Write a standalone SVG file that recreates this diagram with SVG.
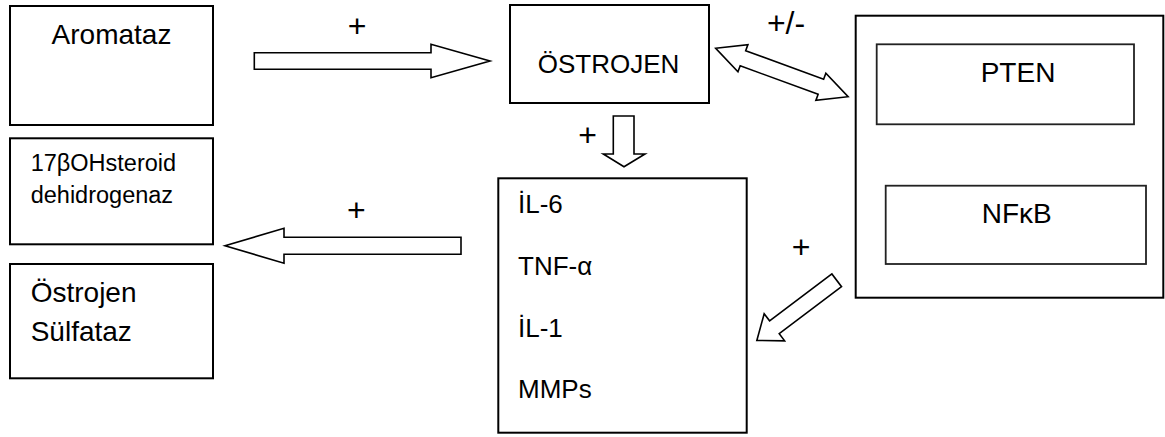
<svg xmlns="http://www.w3.org/2000/svg" width="1165" height="437" viewBox="0 0 1165 437">
<style>
.box{fill:#fff;stroke:#000;stroke-width:2}
.inner{fill:#fff;stroke:#222;stroke-width:1.8}
.arr{fill:#fff;stroke:#000;stroke-width:1.6;stroke-linejoin:miter}
text{font-family:"Liberation Sans",Arial,sans-serif;fill:#000}
.t28{font-size:28px}
.t26{font-size:26px}
.t23{font-size:23.5px}
.plus{font-size:32px;text-anchor:middle}
</style>
<rect width="1165" height="437" fill="#fff"/>
<g id="aromataz"><rect class="box" x="10" y="6" width="203" height="119"/><text class="t28" x="111.5" y="43.5" text-anchor="middle">Aromataz</text></g>
<g id="hsd17"><rect class="box" x="10" y="138.3" width="203" height="106"/><text class="t23" x="30.7" y="170.7">17βOHsteroid</text><text class="t23" x="30.7" y="202.7">dehidrogenaz</text></g>
<g id="sulfataz"><rect class="box" x="10" y="264" width="203" height="114.3"/><text class="t28" x="30.7" y="301.7">Östrojen</text><text class="t28" x="30.7" y="340.7">Sülfataz</text></g>
<g id="ostrojen"><rect class="box" x="510" y="5" width="199" height="98"/><text class="t26" x="537.7" y="72.7">ÖSTROJEN</text></g>
<g id="cytokines"><rect class="box" x="498.3" y="178.3" width="248.4" height="254.4"/><text class="t26" x="518" y="213.3">İL-6</text><text class="t26" x="518" y="275">TNF-α</text><text class="t26" x="518" y="336.7">İL-1</text><text class="t26" x="518" y="398.3">MMPs</text></g>
<g id="pathway"><rect class="box" x="855.7" y="15.7" width="307.6" height="282"/>
<g id="pten"><rect class="inner" x="876.7" y="44.3" width="257.3" height="80"/><text class="t28" x="980.7" y="82">PTEN</text></g>
<g id="nfkb"><rect class="inner" x="885.7" y="185.7" width="260.3" height="78.3"/><text class="t28" x="981.7" y="223">NFκB</text></g>
</g>
<g id="connectors">
<polygon class="arr" points="254.3,52.7 431,52.7 431,44.3 490,61 431,77.7 431,69.3 254.3,69.3"/>
<polygon class="arr" points="613.3,116 634,116 634,154 645,154 624,166.7 603.3,154 613.3,154"/>
<polygon class="arr" points="461,237.3 284,237.3 284,228.3 225,245.7 284,263.3 284,254.3 461,254.3"/>
<polygon class="arr" transform="translate(715.7 48.3) rotate(20.1)" points="0,0 29,-14.5 29,-8 112,-8 112,-14.5 141,0 112,14.5 112,8 29,8 29,14.5"/>
<polygon class="arr" transform="translate(836.7 280.3) rotate(143)" points="0,-8 78,-8 78,-17 100,0 78,17 78,8 0,8"/>
<text class="plus" x="357" y="37.4">+</text>
<text class="plus" x="587.7" y="145.7">+</text>
<text class="plus" x="356.3" y="221">+</text>
<text class="plus" x="801" y="257.7">+</text>
<text class="plus" x="786" y="33.5">+/-</text>
</g>
</svg>
